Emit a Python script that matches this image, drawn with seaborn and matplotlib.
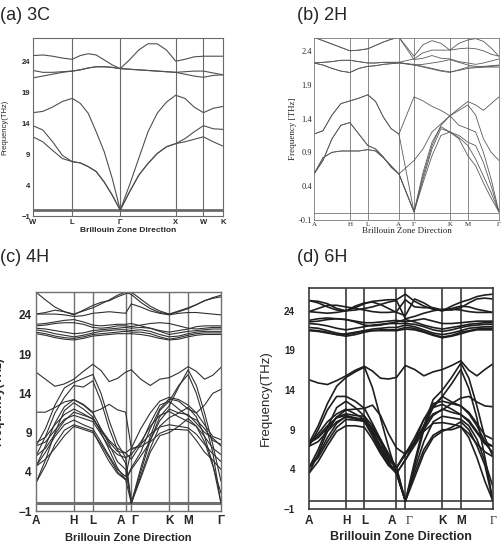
import numpy as np
import pandas as pd
import seaborn as sns
import matplotlib.pyplot as plt

# ---- paths through the Brillouin zone (segment lengths, points per segment)
fcc_labels = ["W", "L", "Γ", "X", "W", "K"]
fcc_seg = [0.707, 0.866, 1.0, 0.5, 0.354]
fcc_div = [4, 6, 6, 3, 2]

hex_labels = ["A", "H", "L", "A", "Γ", "K", "M", "Γ"]
hex_seg_2h = [1.0, 0.5, 0.866, 0.42, 1.0, 0.5, 0.866]
hex_seg_4h = [1.0, 0.5, 0.866, 0.15, 1.0, 0.5, 0.866]
hex_seg_6h = [1.0, 0.5, 0.866, 0.24, 1.0, 0.5, 0.866]
hex_div = [4, 2, 4, 1, 4, 2, 4]

# ---- 3C  (W .. L .. Γ .. X .. W .. K), THz
bands_3c = [
    [24.9, 25.0, 24.8, 24.5, 24.3, 24.9, 25.2, 25.0, 24.2, 23.4, 22.8, 24.2, 25.8, 26.8, 26.8, 25.8, 24.0, 24.3, 24.7, 24.8, 24.8, 24.8],
    [22.5, 22.2, 22.2, 22.3, 22.4, 22.6, 22.9, 23.1, 23.1, 23.0, 22.8, 22.7, 22.6, 22.5, 22.4, 22.3, 22.2, 22.3, 22.4, 22.4, 22.1, 21.8],
    [21.3, 21.6, 21.9, 22.2, 22.4, 22.6, 22.9, 23.1, 23.1, 23.0, 22.8, 22.7, 22.6, 22.5, 22.4, 22.3, 22.2, 21.9, 21.6, 21.4, 21.7, 21.8],
    [15.7, 15.9, 16.6, 17.5, 18.0, 17.2, 15.6, 12.6, 9.4, 5.1, 0.0, 4.0, 8.3, 12.6, 15.6, 17.4, 18.5, 18.0, 16.6, 15.7, 16.4, 16.7],
    [13.6, 12.9, 11.0, 8.8, 7.8, 7.6, 7.0, 6.2, 4.5, 2.4, 0.0, 2.9, 5.6, 7.5, 9.1, 10.2, 10.7, 11.5, 12.6, 13.6, 13.1, 13.0],
    [11.8, 11.0, 9.6, 8.3, 7.8, 7.6, 7.0, 6.2, 4.5, 2.4, 0.0, 2.9, 5.6, 7.5, 9.1, 10.2, 10.7, 11.0, 11.4, 11.8, 11.0, 10.3],
]

# ---- 2H  (A H L A | Γ K M Γ)
bands_2h = [
    [2.6, 2.55, 2.5, 2.45, 2.4, 2.41, 2.43, 2.48, 2.53, 2.57, 2.6, 2.32, 2.49, 2.55, 2.51, 2.41, 2.51, 2.56, 2.58, 2.54, 2.44, 2.32],
    [2.22, 2.23, 2.24, 2.26, 2.26, 2.24, 2.22, 2.22, 2.23, 2.23, 2.23, 2.28, 2.37, 2.41, 2.41, 2.41, 2.43, 2.44, 2.43, 2.4, 2.35, 2.32],
    [2.22, 2.19, 2.14, 2.1, 2.08, 2.14, 2.17, 2.18, 2.2, 2.21, 2.22, 2.2, 2.17, 2.14, 2.11, 2.09, 2.11, 2.14, 2.15, 2.16, 2.17, 2.18],
    [2.6, 2.55, 2.5, 2.45, 2.4, 2.41, 2.43, 2.48, 2.53, 2.57, 2.6, 2.27, 2.29, 2.33, 2.29, 2.28, 2.24, 2.22, 2.2, 2.22, 2.25, 2.28],
    [2.22, 2.23, 2.24, 2.26, 2.26, 2.24, 2.22, 2.22, 2.23, 2.23, 2.23, 2.19, 2.16, 2.13, 2.1, 2.08, 2.12, 2.16, 2.16, 2.16, 2.16, 2.16],
    [2.22, 2.19, 2.14, 2.1, 2.08, 2.14, 2.17, 2.18, 2.2, 2.21, 2.22, 2.19, 2.2, 2.22, 2.24, 2.27, 2.23, 2.19, 2.17, 2.17, 2.18, 2.19],
    [1.17, 1.22, 1.45, 1.62, 1.66, 1.7, 1.75, 1.65, 1.42, 1.25, 1.17, 1.72, 1.66, 1.58, 1.52, 1.44, 1.55, 1.65, 1.6, 1.52, 1.62, 1.72],
    [1.17, 1.22, 1.45, 1.62, 1.66, 1.7, 1.75, 1.65, 1.42, 1.25, 1.17, 0.02, 0.45, 0.85, 1.15, 1.2, 1.12, 1.0, 0.8, 0.55, 0.3, 0.02],
    [0.58, 0.78, 1.1, 1.3, 1.34, 1.17, 1.0, 0.95, 0.83, 0.68, 0.58, 0.78, 0.95, 1.2, 1.32, 1.44, 1.52, 1.6, 1.45, 1.1, 0.9, 0.78],
    [0.58, 0.82, 0.9, 0.92, 0.92, 0.92, 0.94, 0.92, 0.82, 0.7, 0.58, 0.02, 0.5, 0.95, 1.25, 1.2, 1.1, 0.85, 0.7, 0.45, 0.22, 0.02],
    [0.58, 0.78, 1.1, 1.3, 1.34, 1.17, 1.0, 0.95, 0.83, 0.68, 0.58, 0.02, 0.55, 1.0, 1.3, 1.44, 1.3, 1.25, 1.2, 0.9, 0.5, 0.02],
    [0.58, 0.82, 0.9, 0.92, 0.92, 0.92, 0.94, 0.92, 0.82, 0.7, 0.58, 0.02, 0.6, 1.05, 1.28, 1.2, 1.15, 1.05, 1.0, 0.75, 0.4, 0.02],
]

# ---- 4H
bands_4h = [
    [26.9, 25.9, 25.0, 24.4, 24.1, 24.5, 24.9, 25.4, 25.9, 26.5, 26.9, 26.6, 25.6, 24.8, 24.3, 24.1, 24.5, 24.9, 25.3, 25.8, 26.2, 26.5],
    [24.1, 24.1, 24.1, 24.0, 23.8, 23.9, 24.2, 24.3, 24.4, 24.3, 24.2, 25.4, 25.0, 24.5, 24.2, 24.0, 24.2, 24.3, 24.3, 24.2, 24.1, 24.0],
    [24.1, 24.3, 24.6, 24.4, 24.0, 24.6, 25.2, 25.6, 25.8, 26.3, 26.7, 26.9, 26.0, 25.1, 24.5, 24.1, 24.4, 24.8, 25.3, 25.8, 26.1, 26.3],
    [22.6, 22.7, 22.9, 23.0, 23.0, 22.8, 22.4, 22.3, 22.4, 22.6, 22.6, 22.5, 22.7, 22.9, 23.0, 22.9, 22.6, 22.3, 22.2, 22.3, 22.4, 22.4],
    [22.3, 22.2, 22.0, 21.8, 21.6, 21.7, 22.0, 22.1, 22.2, 22.3, 22.4, 22.3, 22.4, 22.3, 21.9, 21.5, 21.7, 21.9, 22.0, 22.1, 22.2, 22.2],
    [22.1, 21.9, 21.6, 21.4, 21.2, 21.4, 21.7, 21.9, 22.0, 22.1, 22.1, 22.0, 22.1, 21.9, 21.5, 21.2, 21.3, 21.6, 21.8, 21.9, 21.9, 21.9],
    [21.8, 21.6, 21.3, 21.1, 21.0, 21.2, 21.5, 21.6, 21.7, 21.8, 21.9, 21.8, 21.8, 21.6, 21.2, 20.9, 21.1, 21.4, 21.6, 21.7, 21.7, 21.7],
    [21.6, 21.4, 21.1, 20.9, 20.8, 21.0, 21.3, 21.4, 21.5, 21.6, 21.6, 21.6, 21.5, 21.3, 21.0, 20.8, 20.9, 21.2, 21.4, 21.5, 21.5, 21.5],
    [22.8, 22.9, 23.1, 23.3, 23.4, 23.1, 22.7, 22.6, 22.7, 22.8, 22.8, 22.9, 22.6, 22.3, 22.0, 21.8, 22.0, 22.2, 22.5, 22.6, 22.6, 22.6],
    [16.7, 15.8, 14.9, 15.2, 15.8, 16.8, 17.7, 16.9, 15.5, 15.9, 16.7, 17.0, 15.8, 15.0, 15.8, 16.0, 16.6, 17.4, 16.8, 15.8, 16.3, 17.3],
    [11.6, 11.6, 12.2, 12.9, 13.2, 12.6, 11.6, 12.0, 12.6, 11.9, 11.6, 7.0, 9.5, 11.5, 13.0, 13.5, 13.2, 12.5, 11.5, 12.5, 14.0, 14.5],
    [7.3, 9.5, 12.5, 14.7, 15.4, 15.9, 16.4, 14.0, 10.5, 7.6, 5.8, 0.0, 4.0, 8.0, 11.0, 12.4, 14.8, 17.0, 15.0, 11.5, 7.5, 2.8],
    [6.0, 8.5, 11.5, 13.5, 15.0, 14.8, 15.6, 13.0, 9.5, 6.8, 5.1, 0.0, 4.5, 8.5, 11.8, 13.0, 15.0, 16.4, 14.0, 10.5, 6.5, 0.0],
    [4.7, 7.3, 10.2, 12.3, 13.2, 12.5, 11.5, 9.5, 7.5, 5.3, 4.3, 0.0, 3.5, 7.0, 9.8, 10.9, 11.5, 12.2, 11.0, 8.5, 5.0, 0.0],
    [2.6, 5.5, 9.0, 11.8, 12.8, 12.0, 11.0, 9.0, 6.8, 4.5, 3.0, 4.5, 6.5, 9.5, 12.0, 13.3, 13.0, 12.0, 11.5, 10.0, 8.5, 8.1],
    [7.7, 8.4, 10.0, 11.3, 12.0, 11.4, 10.7, 9.4, 8.0, 7.0, 6.4, 5.6, 7.5, 10.2, 12.5, 13.0, 12.0, 11.1, 10.6, 9.5, 8.0, 7.5],
    [7.3, 7.8, 9.3, 10.7, 11.2, 10.8, 10.4, 8.8, 7.2, 6.2, 5.8, 6.2, 7.8, 9.8, 11.2, 11.7, 11.0, 10.4, 9.8, 8.5, 7.0, 6.2],
    [4.7, 6.5, 8.5, 10.0, 10.6, 10.0, 9.5, 7.8, 6.0, 4.3, 3.4, 6.8, 7.5, 8.8, 9.7, 10.0, 9.8, 9.6, 8.8, 7.5, 6.3, 5.3],
    [2.6, 4.8, 7.5, 9.3, 10.0, 9.6, 9.2, 7.2, 5.3, 3.8, 3.0, 4.3, 6.0, 7.8, 8.9, 9.4, 9.4, 9.3, 8.0, 6.5, 5.5, 4.3],
    [4.7, 5.6, 7.0, 8.6, 9.8, 9.4, 9.0, 7.5, 5.8, 4.0, 3.0, 0.0, 3.2, 6.5, 8.6, 9.0, 9.8, 10.8, 9.8, 7.8, 4.8, 1.3],
    [6.0, 7.0, 8.8, 10.5, 11.6, 11.2, 10.8, 9.2, 7.8, 6.6, 6.4, 7.0, 7.2, 8.0, 10.5, 12.0, 11.5, 11.3, 10.2, 9.0, 8.3, 7.3],
]

# ---- 6H
bands_6h = [
    [25.3, 25.0, 24.5, 24.1, 24.0, 24.4, 24.9, 25.2, 25.3, 25.4, 25.4, 26.1, 25.2, 24.6, 24.2, 24.0, 24.6, 25.1, 25.4, 25.8, 26.0, 26.1],
    [23.9, 24.3, 24.7, 24.7, 24.5, 24.3, 24.1, 23.9, 23.8, 23.8, 23.9, 25.4, 24.5, 24.4, 24.4, 24.1, 24.1, 24.4, 25.0, 25.5, 25.6, 25.5],
    [23.9, 23.8, 23.7, 23.8, 24.0, 24.6, 25.0, 25.1, 24.8, 24.3, 23.8, 23.4, 25.5, 25.0, 24.3, 24.0, 24.3, 24.6, 24.5, 24.2, 24.0, 23.8],
    [25.3, 25.2, 24.9, 24.3, 24.0, 24.1, 24.3, 24.5, 24.8, 25.1, 25.3, 23.0, 23.3, 23.7, 24.0, 24.2, 24.2, 24.1, 23.9, 23.8, 23.8, 23.8],
    [22.8, 23.0, 23.1, 23.0, 22.9, 22.7, 22.5, 22.5, 22.6, 22.7, 22.8, 22.6, 22.8, 23.0, 22.7, 22.4, 22.4, 22.5, 22.6, 22.7, 22.7, 22.7],
    [22.4, 22.3, 22.1, 21.8, 21.6, 21.8, 22.0, 22.2, 22.3, 22.4, 22.4, 22.4, 22.3, 22.0, 21.6, 21.4, 21.6, 21.9, 22.1, 22.2, 22.3, 22.3],
    [21.9, 21.8, 21.5, 21.2, 21.0, 21.2, 21.5, 21.7, 21.8, 21.9, 21.9, 22.2, 22.0, 21.6, 21.2, 21.0, 21.2, 21.5, 21.8, 21.9, 22.0, 22.0],
    [21.6, 21.5, 21.3, 21.0, 20.8, 21.0, 21.3, 21.5, 21.6, 21.6, 21.6, 21.9, 21.8, 21.4, 21.0, 20.7, 20.9, 21.3, 21.5, 21.7, 21.8, 21.8],
    [22.6, 22.7, 22.9, 23.0, 22.9, 22.6, 22.2, 22.1, 22.2, 22.4, 22.6, 22.9, 22.6, 22.2, 21.9, 21.7, 21.9, 22.1, 22.3, 22.4, 22.5, 22.5],
    [21.5, 21.4, 21.2, 21.0, 21.1, 21.3, 21.5, 21.5, 21.5, 21.5, 21.5, 21.7, 21.6, 21.3, 20.9, 20.6, 20.8, 21.1, 21.4, 21.6, 21.6, 21.6],
    [15.3, 14.9, 14.7, 15.2, 15.8, 16.5, 17.0, 16.4, 15.5, 15.4, 15.6, 17.1, 16.6, 15.8, 16.3, 16.6, 17.1, 17.7, 16.5, 15.8, 16.6, 17.3],
    [7.3, 8.0, 9.2, 10.6, 11.5, 11.6, 11.7, 12.1, 10.8, 8.5, 6.7, 5.9, 7.5, 9.5, 11.0, 11.5, 12.3, 13.0, 13.2, 12.5, 12.0, 11.9],
    [7.3, 9.5, 12.3, 14.5, 15.6, 16.3, 16.9, 14.3, 10.5, 6.8, 3.5, 0.0, 5.0, 9.5, 12.8, 14.0, 15.6, 17.4, 15.5, 12.0, 8.0, 5.6],
    [6.9, 9.0, 11.5, 13.2, 13.2, 12.6, 11.7, 9.8, 7.8, 5.5, 4.2, 0.0, 4.5, 9.0, 12.0, 13.2, 14.8, 16.6, 14.2, 10.5, 5.5, 0.0],
    [4.2, 6.5, 9.3, 11.8, 12.6, 11.8, 10.7, 8.8, 7.0, 5.0, 3.5, 5.2, 7.5, 10.3, 12.3, 12.6, 12.3, 12.0, 11.0, 9.5, 7.5, 6.9],
    [3.5, 6.0, 8.8, 10.6, 11.0, 10.8, 10.7, 9.5, 7.5, 5.2, 4.2, 5.9, 8.0, 10.3, 11.8, 12.2, 11.6, 10.9, 10.2, 8.8, 7.3, 6.1],
    [7.3, 8.5, 10.0, 11.0, 11.6, 11.0, 10.3, 9.0, 7.5, 5.8, 4.2, 0.0, 4.0, 7.5, 10.0, 10.7, 10.5, 10.3, 9.5, 7.8, 5.0, 1.8],
    [6.9, 7.5, 8.8, 10.0, 10.6, 10.4, 10.3, 8.8, 6.8, 4.8, 3.5, 5.2, 7.0, 8.8, 9.8, 9.9, 9.7, 9.4, 8.5, 7.2, 6.2, 5.6],
    [4.2, 5.8, 8.0, 9.8, 10.7, 10.4, 10.0, 8.2, 6.2, 4.5, 3.5, 0.0, 3.5, 6.5, 8.3, 9.0, 9.0, 9.4, 8.0, 5.5, 2.5, 0.0],
    [3.5, 5.0, 7.0, 8.8, 9.5, 9.5, 9.3, 7.8, 6.0, 4.5, 4.2, 5.9, 7.2, 9.5, 11.8, 13.2, 12.5, 12.0, 11.2, 9.8, 8.3, 7.8],
    [7.3, 8.2, 9.5, 10.5, 10.8, 10.5, 10.3, 9.2, 7.8, 6.0, 4.2, 6.1, 7.5, 9.0, 10.8, 11.6, 11.2, 10.9, 10.0, 8.6, 7.2, 6.9],
    [4.2, 5.5, 7.5, 9.3, 10.3, 10.2, 10.1, 8.5, 6.5, 4.8, 3.5, 0.0, 3.0, 6.0, 8.0, 8.8, 9.3, 10.0, 9.0, 7.0, 4.5, 0.0],
]


def kgrid(seg, div):
    nodes = np.concatenate([[0], np.cumsum(seg)])
    k = [0.0]
    for a, b, n in zip(nodes[:-1], nodes[1:], div):
        k += list(np.linspace(a, b, n + 1)[1:])
    return np.array(k), nodes


def draw(ax, seg, div, bands, labels, col, lw, vcol, vlw, zlw):
    k, nodes = kgrid(seg, div)
    rows = [(b, kk, f) for b, vals in enumerate(bands) for kk, f in zip(k, vals)]
    df = pd.DataFrame(rows, columns=["band", "k", "freq"])
    sns.lineplot(data=df, x="k", y="freq", units="band", estimator=None,
                 color=col, lw=lw, sort=False, legend=False, ax=ax)
    for x in nodes[1:-1]:
        ax.axvline(x, color=vcol, lw=vlw, zorder=1)
    ax.axhline(0, color=vcol, lw=zlw, zorder=1)
    ax.set_xlim(0, nodes[-1])
    ax.set_xticks(nodes)
    ax.set_xticklabels(labels)
    for s in ax.spines.values():
        s.set_color(vcol)
        s.set_linewidth(vlw)
    return nodes


sns.set_theme(style="white")
plt.rcParams["font.family"] = ["Liberation Sans", "DejaVu Sans"]

fig = plt.figure(figsize=(5.04, 5.46), dpi=100)

# (a) 3C
ax = fig.add_axes([0.0655, 0.604, 0.377, 0.326])
draw(ax, fcc_seg, fcc_div, bands_3c, fcc_labels, "#505050", 0.8, "#6a6a6a", 0.8, 2.0)
ax.set_ylim(-1, 27.7)
ax.set_yticks([-1, 4, 9, 14, 19, 24])
ax.tick_params(length=0, pad=2, labelsize=5.5)
for t in ax.get_xticklabels() + ax.get_yticklabels():
    t.set_fontweight("bold")
ax.set_xlabel("Brillouin Zone Direction", fontsize=6, fontweight="bold", labelpad=1)
ax.set_ylabel("Frequency(THz)", fontsize=5.5)
ax.yaxis.set_label_coords(-0.13, 0.5)

# (b) 2H
serif = ["Liberation Serif", "DejaVu Serif"]
ax = fig.add_axes([0.623, 0.597, 0.367, 0.3335])
draw(ax, hex_seg_2h, hex_div, bands_2h, hex_labels, "#5a5a5a", 0.6, "#777777", 0.6, 0.6)
ax.set_ylim(-0.1, 2.59)
ax.set_yticks([-0.1, 0.4, 0.9, 1.4, 1.9, 2.4])
ax.set_yticklabels(["-0.1", "0.4", "0.9", "1.4", "1.9", "2.4"])
ax.tick_params(axis="y", length=0, pad=1.5, labelsize=6)
ax.tick_params(axis="x", length=0, pad=1.5, labelsize=5)
for t in ax.get_xticklabels() + ax.get_yticklabels():
    t.set_family(serif)
ax.set_xlabel("Brillouin Zone Direction", fontsize=6.5, family=serif, labelpad=0)
ax.set_ylabel("Frequency [THz]", fontsize=6.5, family=serif)
ax.yaxis.set_label_coords(-0.092, 0.5)

# (c) 4H
ax = fig.add_axes([0.0714, 0.064, 0.367, 0.401])
draw(ax, hex_seg_4h, hex_div, bands_4h, hex_labels, "#303030", 0.8, "#707070", 1.0, 2.2)
ax.set_ylim(-1, 26.9)
ax.set_yticks([-1, 4, 9, 14, 19, 24])
ax.tick_params(length=0, pad=3, labelsize=8.5)
for t in ax.get_xticklabels() + ax.get_yticklabels():
    t.set_fontweight("bold")
xl = ax.get_xticklabels()
xl[3].set_ha("right")
xl[4].set_ha("left")
ax.set_xlabel("Brillouin Zone Direction", fontsize=8, fontweight="bold", labelpad=4)
ax.set_ylabel("Frequency(THz)", fontsize=8.5, fontweight="bold")
ax.yaxis.set_label_coords(-0.17, 0.5)

# (d) 6H
ax = fig.add_axes([0.613, 0.0678, 0.365, 0.405])
draw(ax, hex_seg_6h, hex_div, bands_6h, hex_labels, "#1e1e1e", 1.2, "#3a3a3a", 1.2, 1.2)
ax.set_ylim(-1, 26.9)
ax.set_yticks([-1, 4, 9, 14, 19, 24])
ax.set_yticklabels(["\u22121", "4", "9", "14", "19", "24"])
ax.tick_params(axis="y", length=0, pad=10, labelsize=7)
ax.tick_params(axis="x", length=0, pad=4, labelsize=8.5)
for t in ax.get_xticklabels() + ax.get_yticklabels():
    t.set_fontweight("bold")
xl = ax.get_xticklabels()
for i in (4, 7):
    xl[i].set_family(serif)
    xl[i].set_fontweight("normal")
xl[3].set_ha("right")
xl[4].set_ha("left")
ax.set_xlabel("Brillouin Zone Direction", fontsize=9, fontweight="bold", labelpad=3)
ax.set_ylabel("Frequency(THz)", fontsize=9.5)
ax.yaxis.set_label_coords(-0.2, 0.5)

# panel titles
for x, y, s in [(0.0, 0.972, "(a) 3C"), (0.589, 0.972, "(b) 2H"),
                (0.0, 0.529, "(c) 4H"), (0.589, 0.529, "(d) 6H")]:
    fig.text(x, y, s, fontsize=13, va="center", ha="left")

fig.savefig("out.png", dpi=100)
